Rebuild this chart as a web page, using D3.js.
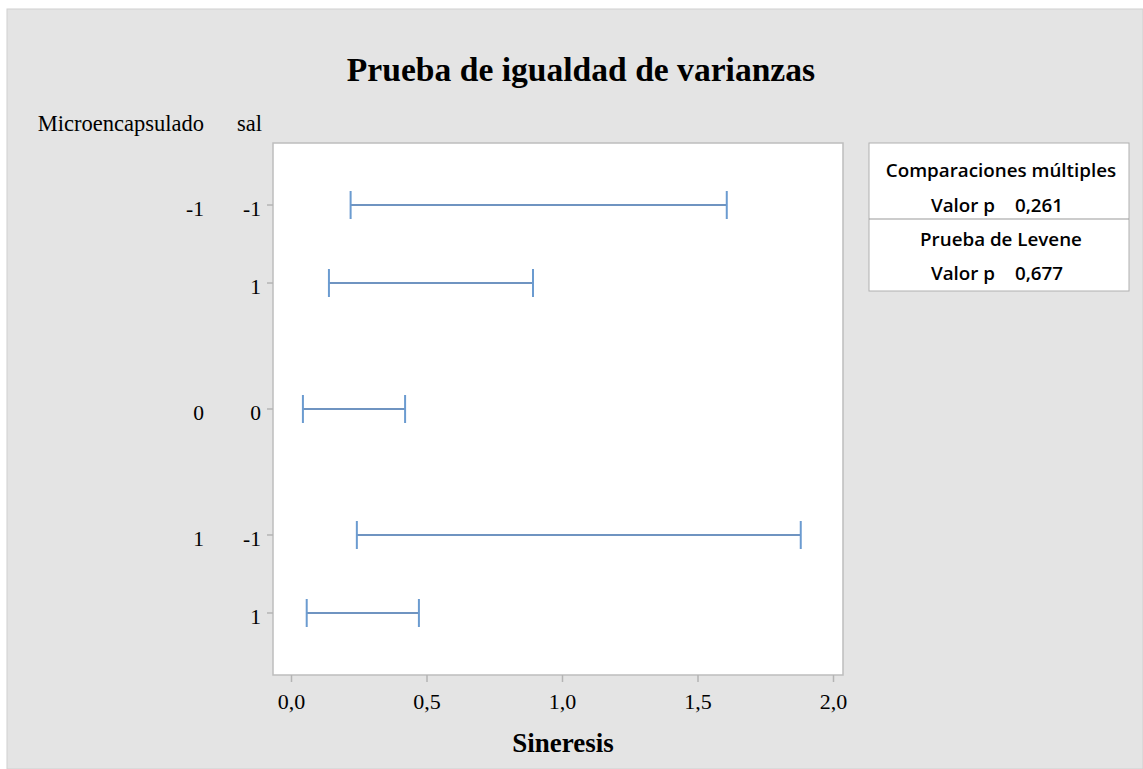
<!DOCTYPE html>
<html><head><meta charset="utf-8">
<script src="https://cdn.jsdelivr.net/npm/d3@7"></script>
<style>body{margin:0;background:#fff;} svg{display:block;}</style>
</head><body>
<svg id="chart" width="1143" height="769"></svg>
<script>
// ---- data ----
const microLevels = ["-1", "-1", "0", "1", "1"];
const salLevels   = ["-1", "1", "0", "-1", "1"];
const groupIndex  = [0, 0, 1, 2, 2];
const lowerCI     = [0.220, 0.140, 0.044, 0.243, 0.058];
const upperCI     = [1.608, 0.893, 0.421, 1.881, 0.472];
const xTicks      = [0, 0.5, 1.0, 1.5, 2.0];
const tableRows   = [
  {type: "head", label: "Comparaciones múltiples"},
  {type: "val", label: "Valor p", value: "0,261"},
  {type: "head", label: "Prueba de Levene"},
  {type: "val", label: "Valor p", value: "0,677"}
];

const svg = d3.select("#chart");
const W = 1143, H = 769;
const serif = "'Liberation Serif', 'Times New Roman', serif";

svg.append("rect").attr("x", 7).attr("y", 9).attr("width", W - 7).attr("height", H - 9)
  .attr("fill", "#e4e4e4").attr("stroke", "#d0d0d0").attr("stroke-width", 1);

const plot = {left: 273, right: 843, top: 143, bottom: 675};

// x scale
const x = d3.scaleLinear().domain([-0.0664, 2.0369]).range([plot.left, plot.right]);
// y position with group gaps
const gap = 0.615;
const pos = microLevels.map((d, i) => i + groupIndex[i] * gap);
const y = d3.scaleLinear().domain([-0.795, pos[pos.length - 1] + 0.795]).range([plot.top, plot.bottom]);

// plot area
svg.append("rect").attr("x", plot.left).attr("y", plot.top)
  .attr("width", plot.right - plot.left).attr("height", plot.bottom - plot.top)
  .attr("fill", "#fff").attr("stroke", "#bdbdbd").attr("stroke-width", 1.5);

// title
svg.append("text").attr("x", 581).attr("y", 81).attr("text-anchor", "middle")
  .attr("font-family", serif).attr("font-weight", "bold").attr("font-size", 33.6)
  .attr("fill", "#000").text("Prueba de igualdad de varianzas");

// x axis
const xAxis = d3.axisBottom(x).tickValues(xTicks).tickSize(7).tickPadding(11)
  .tickFormat(d => d3.format(".1f")(d).replace(".", ","));
const gx = svg.append("g").attr("transform", `translate(0,${plot.bottom})`).call(xAxis);
gx.select(".domain").remove();
gx.selectAll(".tick line").attr("stroke", "#b4b4b4").attr("stroke-width", 1.5);
gx.selectAll(".tick text").attr("font-family", serif).attr("font-size", 22).attr("fill", "#000");

svg.append("text").attr("x", 563).attr("y", 752).attr("text-anchor", "middle")
  .attr("font-family", serif).attr("font-weight", "bold").attr("font-size", 27)
  .attr("fill", "#000").text("Sineresis");

// y ticks
svg.append("g").selectAll("line").data(pos).join("line")
  .attr("x1", plot.left - 6).attr("x2", plot.left)
  .attr("y1", d => y(d)).attr("y2", d => y(d))
  .attr("stroke", "#b4b4b4").attr("stroke-width", 1.5);

// header labels
svg.append("text").attr("x", 204).attr("y", 131).attr("text-anchor", "end")
  .attr("font-family", serif).attr("font-size", 22.5).text("Microencapsulado");
svg.append("text").attr("x", 262).attr("y", 131).attr("text-anchor", "end")
  .attr("font-family", serif).attr("font-size", 22.5).text("sal");

// row labels
microLevels.forEach((m, i) => {
  const first = i === 0 || groupIndex[i] !== groupIndex[i - 1];
  if (first) {
    svg.append("text").attr("x", 204).attr("y", y(pos[i]) + 11).attr("text-anchor", "end")
      .attr("font-family", serif).attr("font-size", 21.5).text(m);
  }
  svg.append("text").attr("x", 261).attr("y", y(pos[i]) + 11).attr("text-anchor", "end")
    .attr("font-family", serif).attr("font-size", 21.5).text(salLevels[i]);
});

// intervals
const gi = svg.append("g");
lowerCI.forEach((lo, i) => {
  const yy = y(pos[i]);
  gi.append("line").attr("x1", x(lo)).attr("x2", x(upperCI[i])).attr("y1", yy).attr("y2", yy)
    .attr("stroke", "#3f71ad").attr("stroke-width", 1.5);
  [lo, upperCI[i]].forEach(v => {
    gi.append("line").attr("x1", x(v)).attr("x2", x(v)).attr("y1", yy - 14).attr("y2", yy + 14)
      .attr("stroke", "#6b9bd0").attr("stroke-width", 2);
  });
});

// table
const tb = {left: 869, right: 1129, top: 143, bottom: 291};
svg.append("rect").attr("x", tb.left).attr("y", tb.top).attr("width", tb.right - tb.left)
  .attr("height", tb.bottom - tb.top).attr("fill", "#fff").attr("stroke", "#b0b0b0").attr("stroke-width", 1);
svg.append("line").attr("x1", tb.left).attr("x2", tb.right).attr("y1", 219).attr("y2", 219)
  .attr("stroke", "#999").attr("stroke-width", 1);
const sans = "'Open Sans', 'Noto Sans', sans-serif";
const fs = 18.8;
const baselines = [177, 212, 245.5, 280];
const tcx = (tb.left + tb.right) / 2;
tableRows.forEach((r, i) => {
  if (r.type === "head") {
    svg.append("text").attr("x", tcx + 2).attr("y", baselines[i]).attr("text-anchor", "middle")
      .attr("font-family", sans).attr("font-weight", 600).attr("font-size", fs).text(r.label);
  } else {
    svg.append("text").attr("x", 995).attr("y", baselines[i]).attr("text-anchor", "end")
      .attr("font-family", sans).attr("font-weight", 600).attr("font-size", fs).text(r.label);
    svg.append("text").attr("x", 1015).attr("y", baselines[i]).attr("text-anchor", "start")
      .attr("font-family", sans).attr("font-weight", 600).attr("font-size", fs).text(r.value);
  }
});
</script>
</body></html>
